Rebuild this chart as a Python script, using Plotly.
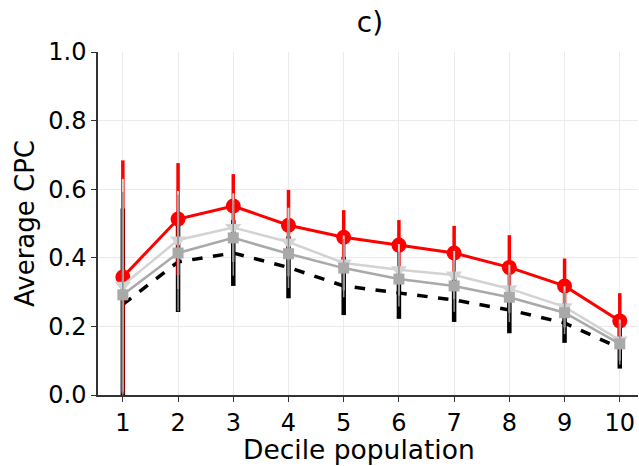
import plotly.graph_objects as go

deciles = [1, 2, 3, 4, 5, 6, 7, 8, 9, 10]

red_vals = [0.344, 0.513, 0.551, 0.495, 0.460, 0.437, 0.414, 0.372, 0.318, 0.216]
red_err = [0.340, 0.163, 0.093, 0.103, 0.079, 0.073, 0.079, 0.094, 0.080, 0.081]

light_vals = [0.320, 0.452, 0.488, 0.446, 0.385, 0.365, 0.350, 0.310, 0.257, 0.160]
light_err = [0.310, 0.143, 0.100, 0.100, 0.080, 0.075, 0.070, 0.070, 0.060, 0.060]

gray_vals = [0.292, 0.414, 0.458, 0.412, 0.370, 0.338, 0.318, 0.285, 0.240, 0.149]
gray_err = [0.300, 0.170, 0.110, 0.100, 0.085, 0.080, 0.075, 0.072, 0.062, 0.060]

black_vals = [0.264, 0.388, 0.414, 0.372, 0.318, 0.297, 0.277, 0.248, 0.210, 0.137]
black_err = [0.280, 0.146, 0.096, 0.090, 0.085, 0.075, 0.064, 0.068, 0.058, 0.060]

fig = go.Figure()

fig.add_trace(go.Scatter(
    x=deciles, y=black_vals, mode="lines",
    line=dict(color="black", width=3.5, dash="dash"),
    error_y=dict(type="data", array=black_err, color="black", thickness=4.5, width=0),
    showlegend=False))
fig.add_trace(go.Scatter(
    x=deciles, y=red_vals, mode="lines+markers",
    line=dict(color="#ff0000", width=3),
    marker=dict(symbol="circle", size=15, color="#ff0000"),
    error_y=dict(type="data", array=red_err, color="#ff0000", thickness=3.5, width=0),
    showlegend=False))
fig.add_trace(go.Scatter(
    x=deciles, y=light_vals, mode="lines+markers",
    line=dict(color="#d3d3d3", width=2.5),
    marker=dict(symbol="triangle-down", size=14, color="#d3d3d3"),
    error_y=dict(type="data", array=light_err, color="#d3d3d3", thickness=2, width=0),
    showlegend=False))
fig.add_trace(go.Scatter(
    x=deciles, y=gray_vals, mode="lines+markers",
    line=dict(color="#a9a9a9", width=2.5),
    marker=dict(symbol="square", size=11, color="#a9a9a9"),
    error_y=dict(type="data", array=gray_err, color="#909090", thickness=1.5, width=0),
    showlegend=False))

fig.update_layout(
    width=639, height=466,
    margin=dict(l=98, r=1, t=52, b=71),
    paper_bgcolor="white", plot_bgcolor="white",
    font=dict(family="DejaVu Sans", color="black"),
    title=dict(text="c)", x=0.579, xanchor="center", y=0.953, yanchor="middle",
               font=dict(size=28, family="DejaVu Sans")),
    xaxis=dict(range=[0.55, 10.33], tickmode="array", tickvals=deciles,
               ticktext=[str(d) for d in deciles], automargin=False,
               showgrid=True, gridcolor="#ebebeb", gridwidth=1,
               showline=True, linecolor="#333333", linewidth=1.5,
               ticks="outside", ticklen=5, tickcolor="#333333",
               tickfont=dict(size=24), zeroline=False),
    yaxis=dict(range=[0, 1], tickmode="array", tickvals=[0, 0.2, 0.4, 0.6, 0.8, 1.0],
               ticktext=["0.0", "0.2", "0.4", "0.6", "0.8", "1.0"], automargin=False,
               showgrid=True, gridcolor="#ebebeb", gridwidth=1,
               showline=True, linecolor="#333333", linewidth=1.5,
               ticks="outside", ticklen=5, tickcolor="#333333",
               tickfont=dict(size=24), zeroline=False,
               title=dict(text="Average CPC", font=dict(size=26), standoff=6)),
    annotations=[dict(text="Decile population", xref="paper", yref="paper",
                      x=0.483, y=-0.158, xanchor="center", yanchor="middle",
                      showarrow=False, font=dict(size=26.5))],
)

fig.write_html("out.html", config={"displayModeBar": False},
               post_script="document.body.style.margin='0';document.body.style.overflow='hidden';")
